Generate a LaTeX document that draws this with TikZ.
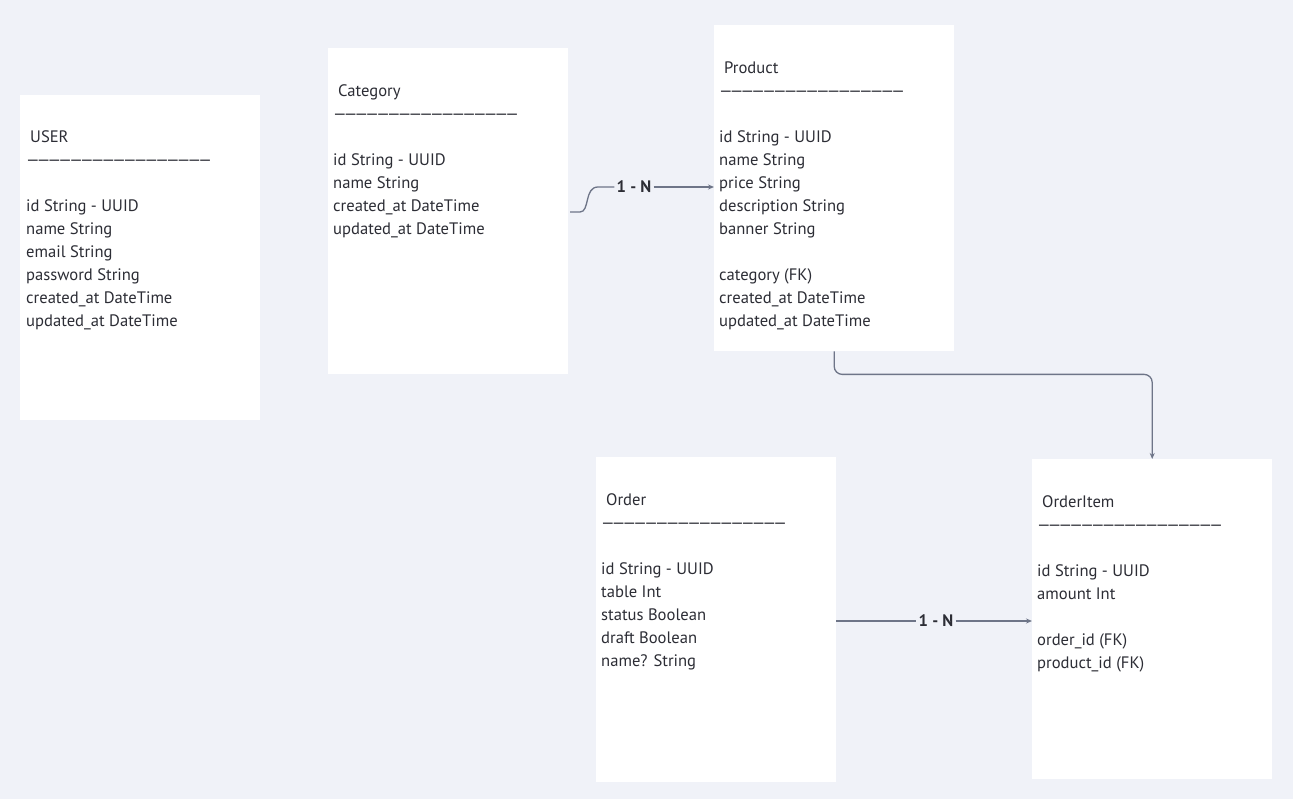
\documentclass[tikz,border=0pt]{standalone}
\usepackage{fontspec}
\setmainfont{PT Sans}
\usetikzlibrary{arrows.meta}
\definecolor{bgc}{HTML}{F0F2F8}
\definecolor{txt}{HTML}{2C2D35}
\definecolor{conn}{HTML}{6E7588}
\tikzset{
  x=1pt, y=-1pt,
  entity/.style={fill=white, draw=none, minimum width=240pt, inner sep=0pt, anchor=north west},
  fields/.style={anchor=north west, inner sep=0pt, align=left, text=txt,
    font=\fontsize{16.6}{23}\selectfont},
  card/.style={inner sep=2pt, text=txt, font=\fontsize{16.6}{19}\selectfont\bfseries},
  link/.style={draw=conn, line width=1.3pt},
  tip/.style={-{Stealth[length=6pt,width=5pt]}},
}
\newcommand{\dd}{—\kern-2.85pt}
\newcommand{\headrule}{\dd\dd\dd\dd\dd\dd\dd\dd\dd\dd\dd\dd\dd\dd\dd\dd—}
\begin{document}
\begin{tikzpicture}
\useasboundingbox (0,0) rectangle (1293,799);
\fill[bgc] (0,0) rectangle (1293,799);

% boxes
\node[entity, minimum height=325pt] (user) at (20,95) {};
\node[entity, minimum height=326pt] (cat) at (328,48) {};
\node[entity, minimum height=326pt] (prod) at (714,25) {};
\node[entity, minimum height=325pt] (ord) at (596,457) {};
\node[entity, minimum height=320pt] (oi) at (1032,459) {};

% texts
\node[fields] (usert) at (26,130.5) {\hspace{4pt}USER\\\headrule\\[23pt]id String - UUID\\name String\\email String\\password String\\created\_at DateTime\\updated\_at DateTime};
\node[fields] (catt) at (333,84.5) {\hspace{5pt}Category\\\headrule\\[23pt]id String - UUID\\name String\\created\_at DateTime\\updated\_at DateTime};
\node[fields] (prodt) at (719,61.5) {\hspace{5pt}Product\\\headrule\\[23pt]id String - UUID\\name String\\price String\\description String\\banner String\\[23pt]category (FK)\\created\_at DateTime\\updated\_at DateTime};
\node[fields] (ordt) at (601,493.5) {\hspace{5pt}Order\\\headrule\\[23pt]id String - UUID\\table Int\\status Boolean\\draft Boolean\\name? String};
\node[fields] (oit) at (1037,495.5) {\hspace{5pt}OrderItem\\\headrule\\[23pt]id String - UUID\\amount Int\\[23pt]order\_id (FK)\\product\_id (FK)};

% connector Category -> Product
\node[card] (l1) at (634,187) {1 - N};
\coordinate (c1) at (570,212);
\draw[link] (c1) -- (580,212) .. controls (590,212) and (584,187) .. (598,187) -- (l1.west);
\draw[link, tip] (l1.east) -- (prod.west |- l1);

% connector Product -> OrderItem
\draw[link, tip, rounded corners=8pt] (prod.south) -- ++(0,23) -| (oi.north);

% connector Order -> OrderItem
\node[card] (l2) at (936,621) {1 - N};
\draw[link] (ord.east |- l2) -- (l2.west);
\draw[link, tip] (l2.east) -- (oi.west |- l2);
\end{tikzpicture}
\end{document}
